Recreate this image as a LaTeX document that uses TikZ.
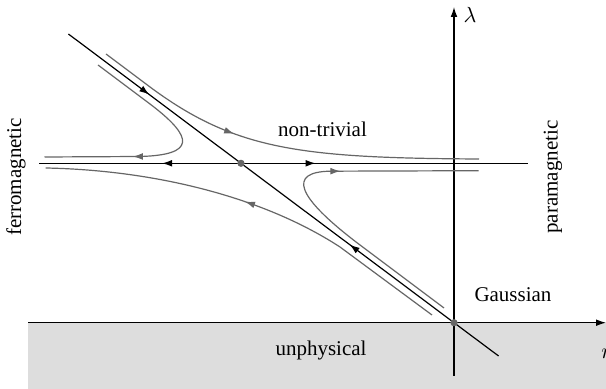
\documentclass[tikz,border=0pt]{standalone}
\usepackage{fontspec}
\setmainfont{Liberation Serif}
\usetikzlibrary{arrows.meta,decorations.markings}
\definecolor{flowgray}{gray}{0.4}
\definecolor{unphysgray}{gray}{0.865}
\tikzset{
	sepline/.style={draw=black, line width=0.6pt},
	flowline/.style={draw=flowgray, line width=0.6pt},
	midarrow/.style={postaction={decorate}, decoration={markings, mark=at position #1 with {\arrow{Latex[length=5pt,width=3.4pt]}}}},
	fixdot/.style={circle, fill=flowgray, inner sep=0pt, minimum size=3.6pt},
	lbl/.style={font=\fontsize{10.5}{12}\selectfont, inner sep=0pt},
}
\begin{document}
\begin{tikzpicture}[x=0.5pt, y=-0.5pt]
	\useasboundingbox (0,0) rectangle (606,389);
	% Unphysical region:
	\fill[unphysgray] (28,322.7) rectangle (606,389);
	% Axes:
	\coordinate (xstart) at (28,322.7);
	\coordinate (xend) at (606,322.7);
	\coordinate (ybot) at (454,376);
	\coordinate (ytop) at (454,7);
	\draw[sepline, -{Latex[length=5pt,width=3.4pt]}] (xstart) -- (xend);
	\draw[sepline, -{Latex[length=5pt,width=3.4pt]}] (ybot) -- (ytop);
	% Separatrices:
	\coordinate (ntfp) at (241,163.3);
	\coordinate (gfp) at (454,322.7);
	\coordinate (diagtop) at (68.4,34);
	\coordinate (diagbot) at (498.6,356);
	\coordinate (horleft) at (38.7,163.3);
	\coordinate (horright) at (528,163.3);
	\draw[sepline, midarrow=0.47] (diagtop) -- (ntfp);
	\draw[sepline, midarrow=0.49] (gfp) -- (ntfp);
	\draw[sepline] (gfp) -- (diagbot);
	\draw[sepline, midarrow=0.39] (ntfp) -- (horleft);
	\draw[sepline, midarrow=0.26] (ntfp) -- (horright);
	% Flow lines:
	\draw[flowline, midarrow=0.38] (106,54) -- (150,87) .. controls (235,150) and (300,158) .. (479,159);
	\draw[flowline, midarrow=0.66] (98,65) -- (150,104) .. controls (195,138) and (195,155) .. (140,156.5) -- (44.5,157);
	\draw[flowline, midarrow=0.52] (432,315) -- (340,247) .. controls (260,195) and (150,170) .. (45.6,168);
	\draw[flowline] (444,308) -- (360,245) .. controls (295,196) and (288,172) .. (330,171.2);
	\draw[flowline, midarrow=0.07] (330,171.2) -- (478.5,170.7);
	% Fixed points:
	\node[fixdot] (ntdot) at (ntfp){};
	\node[fixdot] (gdot) at (gfp){};
	% Labels:
	\node[lbl] (lnontriv) at (322.5,129){non-trivial};
	\node[lbl] (lgauss) at (513,295){Gaussian};
	\node[lbl] (lunphys) at (321,350){unphysical};
	\node[lbl, rotate=90] (lferro) at (16,177){ferromagnetic};
	\node[lbl, rotate=90] (lpara) at (553,177){paramagnetic};
	\node[lbl] (llambda) at (470,15){$\lambda$};
	\node[lbl, anchor=west] (lr) at (601,354){$r$};
\end{tikzpicture}
\end{document}
